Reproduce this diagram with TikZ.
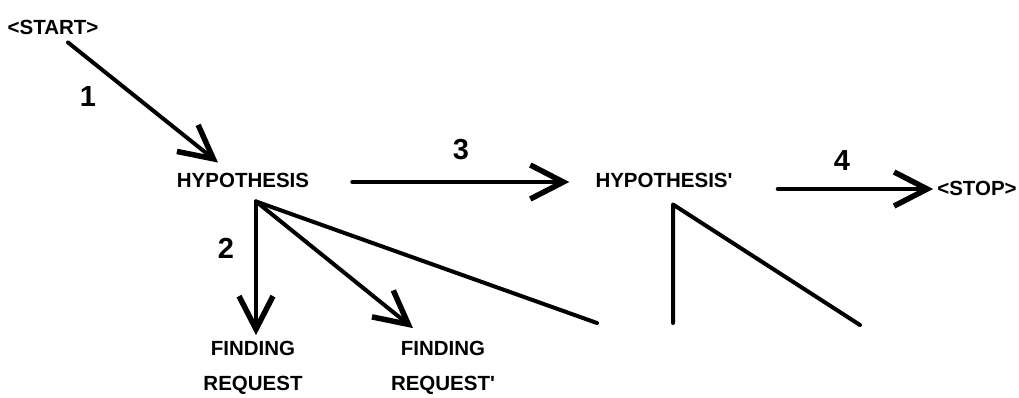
\documentclass[tikz,border=0pt]{standalone}
\usepackage{fontspec}
\setmainfont{Liberation Sans}
\usetikzlibrary{arrows.meta}
\tikzset{
  lab/.style={inner sep=0pt, font=\fontsize{20.5}{35}\selectfont\bfseries, align=center},
  num/.style={inner sep=0pt, font=\fontsize{29}{30}\selectfont\bfseries},
  edge/.style={line width=4pt},
}
\begin{document}
\begin{tikzpicture}[x=1pt, y=-1pt, line join=round, line cap=round,
    >={Straight Barb[length=33pt, width=34pt, line width=5.5pt]}]
  \useasboundingbox (0,0) rectangle (1019,397);
  \node[lab] (start) at (53,27) {<START>};
  \node[lab] (h1) at (243,180) {HYPOTHESIS};
  \node[lab] (h2) at (664,180) {HYPOTHESIS\textquotesingle};
  \node[lab] (stop) at (977,188) {<STOP>};
  \node[lab] (f1) at (253,368) {FINDING\\REQUEST};
  \node[lab] (f2) at (443,368) {FINDING\\REQUEST\textquotesingle};
  \node[num] (n1) at (88,97) {1};
  \node[num] (n2) at (226,248) {2};
  \node[num] (n3) at (461,150) {3};
  \node[num] (n4) at (842,161) {4};
  \coordinate (h1b) at ([shift={(13,14)}]h1.south);
  \coordinate (h2b) at ([shift={(9,17)}]h2.south);
  \coordinate (far) at (597,323);
  \coordinate (h2v) at (673,323);
  \coordinate (h2d) at (860,325);
  % arrows
  \draw[edge,->] ([shift={(15,8)}]start.south) -- ([shift={(-25,-10)}]h1.north);
  \draw[edge,->] ([shift={(43,2)}]h1.east) -- ([shift={(-26,2)}]h2.west);
  \draw[edge,->] ([shift={(45,9)}]h2.east) -- ([shift={(-4,1)}]stop.west);
  \draw[edge,->] (h1b) -- ([shift={(3,-6)}]f1.north);
  \draw[edge,->] (h1b) -- ([shift={(-30,-13)}]f2.north);
  \draw[edge] (h1b) -- (far);
  \draw[edge] (h2v) -- (h2b) -- (h2d);
\end{tikzpicture}
\end{document}
